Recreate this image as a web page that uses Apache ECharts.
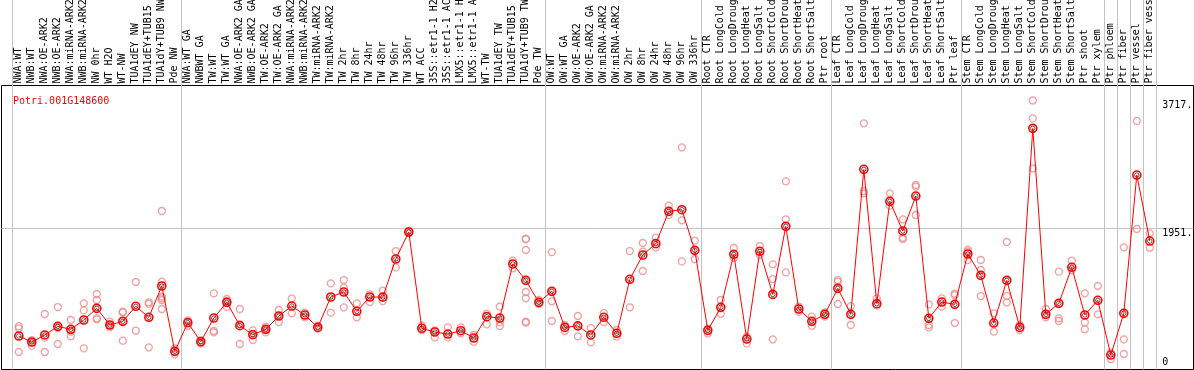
<!DOCTYPE html>
<html>
<head>
<meta charset="utf-8">
<script src="https://cdn.jsdelivr.net/npm/echarts@6/dist/echarts.min.js"></script>
<style>
  html, body { margin: 0; padding: 0; background: #fff; }
  #chart { width: 1194px; height: 370px; }
</style>
</head>
<body>
<div id="chart"></div>
<script>
var geneName = 'Potri.001G148600';

var samples = [
    'NWA:WT', 'NWB:WT', 'NWA:OE-ARK2', 'NWB:OE-ARK2', 'NWA:miRNA-ARK2', 'NWB:miRNA-ARK2',
    'NW 0hr', 'WT H2O', 'WT-NW', 'TUA1dEY NW', 'TUA1dEY+TUB15 NW', 'TUA1dY+TUB9 NW', 'Pde NW',
    'NWA:WT GA', 'NWBWT GA', 'TW:WT', 'TW:WT GA', 'NWA:OE-ARK2 GA', 'NWB:OE-ARK2 GA',
    'TW:OE-ARK2', 'TW:OE-ARK2 GA', 'NWA:miRNA-ARK2', 'NWB:miRNA-ARK2', 'TW:miRNA-ARK2',
    'TW:miRNA-ARK2', 'TW 2hr', 'TW 8hr', 'TW 24hr', 'TW 48hr', 'TW 96hr', 'TW 336hr',
    'WT ACC', '35S::etr1-1 H2O', '35S::etr1-1 ACC', 'LMX5::etr1-1 H2O', 'LMX5::etr1-1 ACC',
    'WT-TW', 'TUA1dEY TW', 'TUA1dEY+TUB15 TW', 'TUA1dY+TUB9 TW', 'Pde TW',
    'OW:WT', 'OW:WT GA', 'OW:OE-ARK2', 'OW:OE-ARK2 GA', 'OW:miRNA-ARK2', 'OW:miRNA-ARK2',
    'OW 2hr', 'OW 8hr', 'OW 24hr', 'OW 48hr', 'OW 96hr', 'OW 336hr',
    'Root CTR', 'Root LongCold', 'Root LongDrought', 'Root LongHeat', 'Root LongSalt',
    'Root ShortCold', 'Root ShortDrought', 'Root ShortHeat', 'Root ShortSalt', 'Ptr root',
    'Leaf CTR', 'Leaf LongCold', 'Leaf LongDrought', 'Leaf LongHeat', 'Leaf LongSalt',
    'Leaf ShortCold', 'Leaf ShortDrought', 'Leaf ShortHeat', 'Leaf ShortSalt', 'Ptr leaf',
    'Stem CTR', 'Stem LongCold', 'Stem LongDrought', 'Stem LongHeat', 'Stem LongSalt',
    'Stem ShortCold', 'Stem ShortDrought', 'Stem ShortHeat', 'Stem ShortSalt', 'Ptr shoot',
    'Ptr xylem', 'Ptr phloem', 'Ptr fiber', 'Ptr vessel', 'Ptr fiber vessel'
];

// mean expression per sample
var means = [
    463, 380, 477, 596, 555, 684, 845, 615, 665, 873, 721, 1154, 251,
    647, 384, 711, 928, 605, 481, 555, 739, 877, 753, 582, 1002, 1071, 804, 1002, 1000, 1527, 1900,
    569, 518, 490, 536, 435, 730, 711, 1458, 1232, 928,
    1080, 582, 603, 477, 721, 500, 1246, 1582, 1739, 2185, 2208, 1646,
    541, 859, 1591, 421, 1633, 1038, 1978, 836, 665, 762,
    1121, 762, 2766, 909, 2323, 1914, 2397, 707, 932, 900,
    1596, 1301, 642, 1232, 582, 3332, 762, 914, 1412, 753,
    956, 200, 776, 2687, 1775
];

// individual replicates per sample
var replicates = [
    [598, 569, 242], [407, 375, 329], [767, 440, 242], [863, 352, 573], [684, 458, 523],
    [914, 817, 292], [1043, 960, 707, 693], [661, 615, 582], [799, 790, 398], [1209, 536],
    [928, 909, 306], [2190, 1213, 1006, 983, 960, 836], [292, 209],
    [679, 605], [405, 384, 360], [1052, 532, 513], [974, 946, 865], [836, 352, 628],
    [541, 495, 407], [592, 513, 555], [822, 656, 739], [979, 776], [785, 721], [605, 569],
    [1190, 785], [1236, 1131, 859], [914, 721], [1038, 933], [1089, 946], [1637, 1411], [1915, 1885],
    [605, 546], [541, 444], [582, 444], [582, 500], [477, 384], [771, 624], [868, 652, 601],
    [1504, 1398], [1808, 1798, 1651, 1071, 984, 661, 647], [960, 905],
    [1623, 942, 670], [615, 532], [739, 458], [573, 375], [780, 656], [546, 454],
    [1637, 859], [1748, 1628, 1361], [1821, 1688], [2264, 2135], [3070, 2061, 1494], [1780, 1527],
    [564, 500], [960, 771], [1679, 1541], [454, 361], [1706, 1582], [1453, 1250, 417],
    [2600, 2075, 1342], [799, 870], [730, 605], [790, 730],
    [1236, 1213, 905], [877, 615], [3401, 2466, 2434], [983, 882], [2434, 2264],
    [2075, 1821, 1803], [2549, 2526, 2135], [900, 615, 582], [983, 868], [1048, 1029, 642],
    [1651, 1628, 1513], [1513, 1375, 1015], [776, 523], [1762, 1015, 928], [615, 546],
    [3717, 3470, 2780], [836, 721], [1352, 707, 670], [1504, 1375], [1052, 652, 555],
    [1154, 762], [232, 145], [1688, 417, 214], [3434, 1941], [1881, 1683]
];

// samples that start a new group (a grey line is drawn on their left edge)
var groupStarts = [0, 13, 41, 53, 63, 73, 84, 85, 86, 87];
var yTicks = [0, 1951, 3717];
var gridLineAt = [1951];

var repPoints = [];
for (var i = 0; i < replicates.length; i++) {
    for (var j = 0; j < replicates[i].length; j++) {
        repPoints.push([i, replicates[i][j]]);
    }
}

var mono = 'DejaVu Sans Mono';
var option = {
    animation: false,
    backgroundColor: '#fff',
    title: {
        text: geneName,
        left: 8,
        top: 91,
        textStyle: { color: '#ff0000', fontSize: 10, fontWeight: 'normal', fontFamily: mono }
    },
    grid: [
        // data area
        { left: 12.3, right: 37.7, top: 0, bottom: 0.5, outerBoundsMode: 'none' },
        // frame
        { left: 1.5, right: 0.5, top: 85.5, bottom: 0.5, show: true, borderColor: '#000',
          borderWidth: 1, backgroundColor: 'transparent', outerBoundsMode: 'none' }
    ],
    xAxis: [
        {
            type: 'category',
            gridIndex: 0,
            data: samples,
            position: 'top',
            offset: -85.5,
            boundaryGap: true,
            axisLine: { show: false },
            axisTick: { show: false },
            axisLabel: {
                interval: 0, rotate: 90, margin: 2,
                fontSize: 10, fontFamily: mono, color: '#000'
            },
            splitLine: {
                show: true,
                interval: function (idx) { return groupStarts.indexOf(idx) >= 0; },
                lineStyle: { color: '#c4c4c4', width: 1 }
            }
        },
        { type: 'value', gridIndex: 1, show: false, min: 0, max: 1 }
    ],
    yAxis: [
        {
            type: 'value',
            gridIndex: 0,
            position: 'right',
            min: 0,
            max: 5105.5,
            axisLine: { show: false },
            axisTick: { show: false },
            splitLine: { show: false },
            axisLabel: {
                customValues: yTicks,
                margin: 6,
                formatter: function (v) {
                    return v === 0 ? '{z|0}' : '{t|' + v + '.}';
                },
                rich: {
                    t: { fontSize: 10, fontFamily: mono, color: '#000', lineHeight: 10, padding: [10, 0, 0, 0] },
                    z: { fontSize: 10, fontFamily: mono, color: '#000', lineHeight: 10, padding: [0, 0, 14, 0] }
                }
            }
        },
        {
            type: 'value',
            gridIndex: 1,
            min: 0,
            max: 3924,
            axisLine: { show: false },
            axisLabel: { show: false },
            axisTick: { show: false, customValues: gridLineAt },
            splitLine: { show: true, lineStyle: { color: '#c4c4c4', width: 1 } }
        }
    ],
    series: [
        {
            name: 'replicates',
            type: 'scatter',
            xAxisIndex: 0,
            yAxisIndex: 0,
            data: repPoints,
            symbol: 'circle',
            symbolSize: 7,
            itemStyle: { color: 'transparent', borderColor: '#ee8a8a', borderWidth: 1.3 },
            silent: true
        },
        {
            name: 'mean',
            type: 'line',
            xAxisIndex: 0,
            yAxisIndex: 0,
            data: means,
            symbol: 'circle',
            symbolSize: 8,
            showAllSymbol: true,
            lineStyle: { color: '#ff0000', width: 1 },
            itemStyle: { color: 'transparent', borderColor: '#ff0000', borderWidth: 1.6 },
            silent: true
        },
        {
            name: 'mean-inner',
            type: 'scatter',
            xAxisIndex: 0,
            yAxisIndex: 0,
            data: means,
            symbol: 'circle',
            symbolSize: 4.5,
            itemStyle: { color: 'transparent', borderColor: '#000', borderWidth: 0.8 },
            silent: true
        }
    ]
};

var myChart = echarts.init(document.getElementById('chart'));
myChart.setOption(option);
</script>
</body>
</html>
